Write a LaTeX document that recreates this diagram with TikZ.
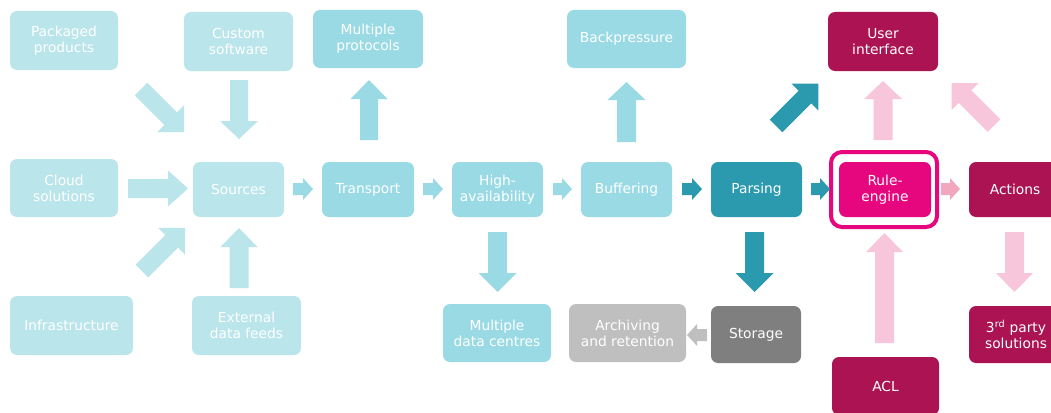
\documentclass[tikz,border=0pt]{standalone}
\usepackage{fontspec}
\setmainfont{DejaVu Sans}
\definecolor{cyanA}{HTML}{BAE5EB}
\definecolor{cyanB}{HTML}{99DAE4}
\definecolor{tealC}{HTML}{2B9AAF}
\definecolor{magR}{HTML}{E6067E}
\definecolor{magD}{HTML}{AB1352}
\definecolor{pinkA}{HTML}{F8C6DA}
\definecolor{pinkB}{HTML}{F1A7BE}
\definecolor{greyD}{HTML}{7F7F7F}
\definecolor{greyL}{HTML}{BFBFBF}
\tikzset{
  box/.style={rounded corners=7pt, text=white, align=center, inner sep=0pt,
    font=\fontsize{13.8}{16}\selectfont},
}
% block arrow: x, y (tail centre), angle, length, half shaft, half head, head length, colour
\newcommand\barrow[8]{%
  \fill[#8, shift={(#1,#2)}, rotate=#3] (0,-#5) -- ({#4-#7},-#5) -- ({#4-#7},-#6) -- (#4,0)
    -- ({#4-#7},#6) -- ({#4-#7},#5) -- (0,#5) -- cycle;}
\begin{document}
\begin{tikzpicture}[x=1pt,y=-1pt]
\useasboundingbox (0,0) rectangle (1051,412);
\clip (0,0) rectangle (1051,412);
% boxes
\node[box, fill=cyanA, minimum width=108pt, minimum height=59pt] (pkg) at (64,40.5) {Packaged\\products};
\node[box, fill=cyanA, minimum width=109pt, minimum height=59pt] (cust) at (238.5,41.5) {Custom\\software};
\node[box, fill=cyanB, minimum width=110pt, minimum height=58pt] (mprot) at (368,39) {Multiple\\protocols};
\node[box, fill=cyanB, minimum width=119pt, minimum height=58pt] (back) at (626.5,39) {Backpressure};
\node[box, fill=cyanA, minimum width=108pt, minimum height=58pt] (cloud) at (64,188) {Cloud\\solutions};
\node[box, fill=cyanA, minimum width=91pt, minimum height=55pt] (src) at (238.5,189.5) {Sources};
\node[box, fill=cyanB, minimum width=92pt, minimum height=55pt] (trans) at (368,189.5) {Transport};
\node[box, fill=cyanB, minimum width=91pt, minimum height=55pt] (ha) at (497.5,189.5) {High-\\availability};
\node[box, fill=cyanB, minimum width=91pt, minimum height=55pt] (buf) at (626.5,189.5) {Buffering};
\node[box, fill=tealC, minimum width=91pt, minimum height=55pt] (pars) at (756.5,189.5) {Parsing};
\node[draw=magR, line width=4pt, rounded corners=11pt, minimum width=106pt, minimum height=75pt, inner sep=0pt] (ring) at (884,189.5) {};
\node[box, fill=magR, minimum width=92pt, minimum height=55pt] (rule) at (885,189.5) {Rule-\\engine};
\node[box, fill=magD, minimum width=92pt, minimum height=55pt] (act) at (1015,189.5) {Actions};
\node[box, fill=magD, minimum width=110pt, minimum height=59pt] (ui) at (883,41.5) {User\\interface};
\node[box, fill=greyD, minimum width=90pt, minimum height=57pt] (stor) at (756,334.5) {Storage};
\node[box, fill=magD, minimum width=94pt, minimum height=57pt] (third) at (1016,334.5) {3\textsuperscript{rd} party\\solutions};
\node[box, fill=magD, minimum width=107pt, minimum height=58pt] (acl) at (885.5,386) {ACL};
\node[box, fill=cyanB, minimum width=108pt, minimum height=58pt] (mdc) at (497,333) {Multiple\\data centres};
\node[box, fill=greyL, minimum width=117pt, minimum height=58pt] (arch) at (627.5,333) {Archiving\\and retention};
\node[box, fill=cyanA, minimum width=123pt, minimum height=59pt] (infra) at (71.5,325.5) {Infrastructure};
\node[box, fill=cyanA, minimum width=109pt, minimum height=59pt] (ext) at (246.5,325.5) {External\\data feeds};
% arrows
\barrow{141}{89}{-45}{61}{9}{19}{19}{cyanA}
\barrow{239}{80}{-90}{59}{9}{19}{18}{cyanA}
\barrow{128}{188.5}{0}{60}{9.5}{18}{20}{cyanA}
\barrow{142}{271}{45}{61}{9}{19}{19}{cyanA}
\barrow{239}{288}{90}{60}{9.5}{18.5}{19}{cyanA}
\barrow{293}{189}{0}{20}{6}{11}{10}{cyanB}
\barrow{369}{140}{90}{60}{9}{18.5}{19}{cyanB}
\barrow{423}{189}{0}{20}{6}{11}{10}{cyanB}
\barrow{553}{189}{0}{19}{6}{11}{10}{cyanB}
\barrow{497.5}{232}{-90}{60}{9.5}{19}{19}{cyanB}
\barrow{626.5}{142}{90}{60}{9.5}{19}{18}{cyanB}
\barrow{682}{189}{0}{20}{6}{11}{10}{tealC}
\barrow{811}{189}{0}{19}{6}{11}{10}{tealC}
\barrow{941}{189}{0}{19}{6}{11}{10}{pinkB}
\barrow{754.5}{232}{-90}{60}{9.5}{19}{19}{tealC}
\barrow{707}{335}{180}{20}{6}{11}{10}{greyL}
\barrow{776}{126}{45}{60}{9}{19}{19}{tealC}
\barrow{883}{140}{90}{59}{9.5}{19}{18}{pinkA}
\barrow{994}{125.5}{135}{60}{9}{19}{19}{pinkA}
\barrow{1014.5}{232}{-90}{60}{9.5}{18.5}{19}{pinkA}
\barrow{884.5}{343}{90}{110}{9.5}{18.5}{19}{pinkA}
\end{tikzpicture}
\end{document}
